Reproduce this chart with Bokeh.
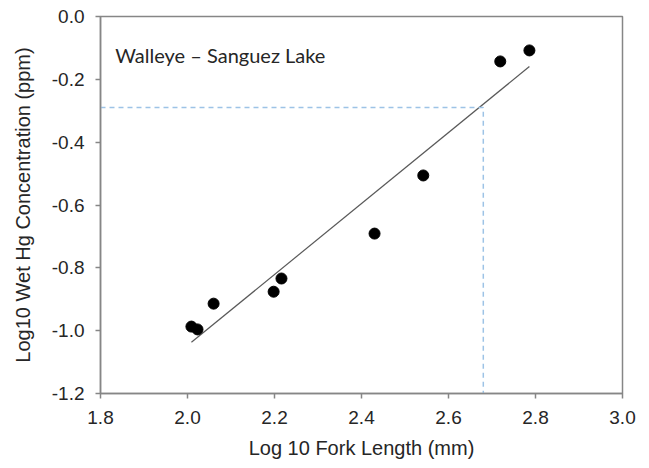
import numpy as np
from bokeh.plotting import figure
from bokeh.models import Range1d, FixedTicker, PrintfTickFormatter, Label
from bokeh.embed import file_html
from bokeh.resources import INLINE

# Walleye samples, Sanguez Lake (log10 fork length in mm, log10 wet Hg in ppm)
log_length = [2.009, 2.023, 2.060, 2.198, 2.216, 2.430, 2.542, 2.719, 2.786]
log_hg = [-0.987, -0.996, -0.914, -0.876, -0.834, -0.691, -0.506, -0.143, -0.108]

# Reference concentration and the length where the fit reaches it
target_hg = -0.29
target_length = 2.68

x_ticks = [1.8, 2.0, 2.2, 2.4, 2.6, 2.8, 3.0]
y_ticks = [-1.2, -1.0, -0.8, -0.6, -0.4, -0.2, 0.0]

AXIS_GRAY = "#868686"
TEXT = "#262626"

p = figure(width=649, height=468, output_backend="svg", toolbar_location=None,
           x_range=Range1d(1.8, 3.0), y_range=Range1d(-1.2, 0.0),
           min_border_left=100, min_border_right=27, min_border_top=16,
           min_border_bottom=75)
p.border_fill_color = "white"
p.outline_line_color = AXIS_GRAY
p.outline_line_width = 1.5
p.xgrid.visible = False
p.ygrid.visible = False

for ax in (p.xaxis[0], p.yaxis[0]):
    ax.axis_line_color = AXIS_GRAY
    ax.axis_line_width = 1.5
    ax.major_tick_line_color = AXIS_GRAY
    ax.major_tick_line_width = 1.5
    ax.major_tick_in = 0
    ax.major_tick_out = 5
    ax.minor_tick_line_color = None
    ax.major_label_text_font = "Liberation Sans"
    ax.major_label_text_font_size = "19px"
    ax.major_label_text_color = TEXT
    ax.axis_label_text_font = "Liberation Sans"
    ax.axis_label_text_font_size = "20px"
    ax.axis_label_text_font_style = "normal"
    ax.axis_label_text_color = TEXT
    ax.formatter = PrintfTickFormatter(format="%.1f")

p.xaxis.ticker = FixedTicker(ticks=x_ticks)
p.yaxis.ticker = FixedTicker(ticks=y_ticks)
p.xaxis.major_label_standoff = 12
p.yaxis.major_label_standoff = 11
p.xaxis.axis_label = "Log 10 Fork Length (mm)"
p.yaxis.axis_label = "Log10 Wet Hg Concentration (ppm)"
p.xaxis.axis_label_standoff = 10
p.yaxis.axis_label_standoff = 15

# Least-squares fit drawn across the sampled length range
slope, intercept = np.polyfit(log_length, log_hg, 1)
fit_x = [min(log_length), max(log_length)]
fit_y = [slope * v + intercept for v in fit_x]
p.line(fit_x, fit_y, line_color="#595959", line_width=1.2)

# Dashed guide lines to the reference concentration
p.line([1.8, target_length, target_length], [target_hg, target_hg, -1.2],
       line_color="#9DC3E6", line_width=1.5, line_dash="5 4")

p.scatter(log_length, log_hg, size=11, fill_color="black", line_color="black")

p.add_layout(Label(x=1.834, y=-0.121, text="Walleye \u2013 Sanguez Lake",
                   text_font="Lato", text_font_size="20px",
                   text_color=TEXT, text_baseline="alphabetic"))

open("out.html", "w").write(file_html(p, INLINE))
